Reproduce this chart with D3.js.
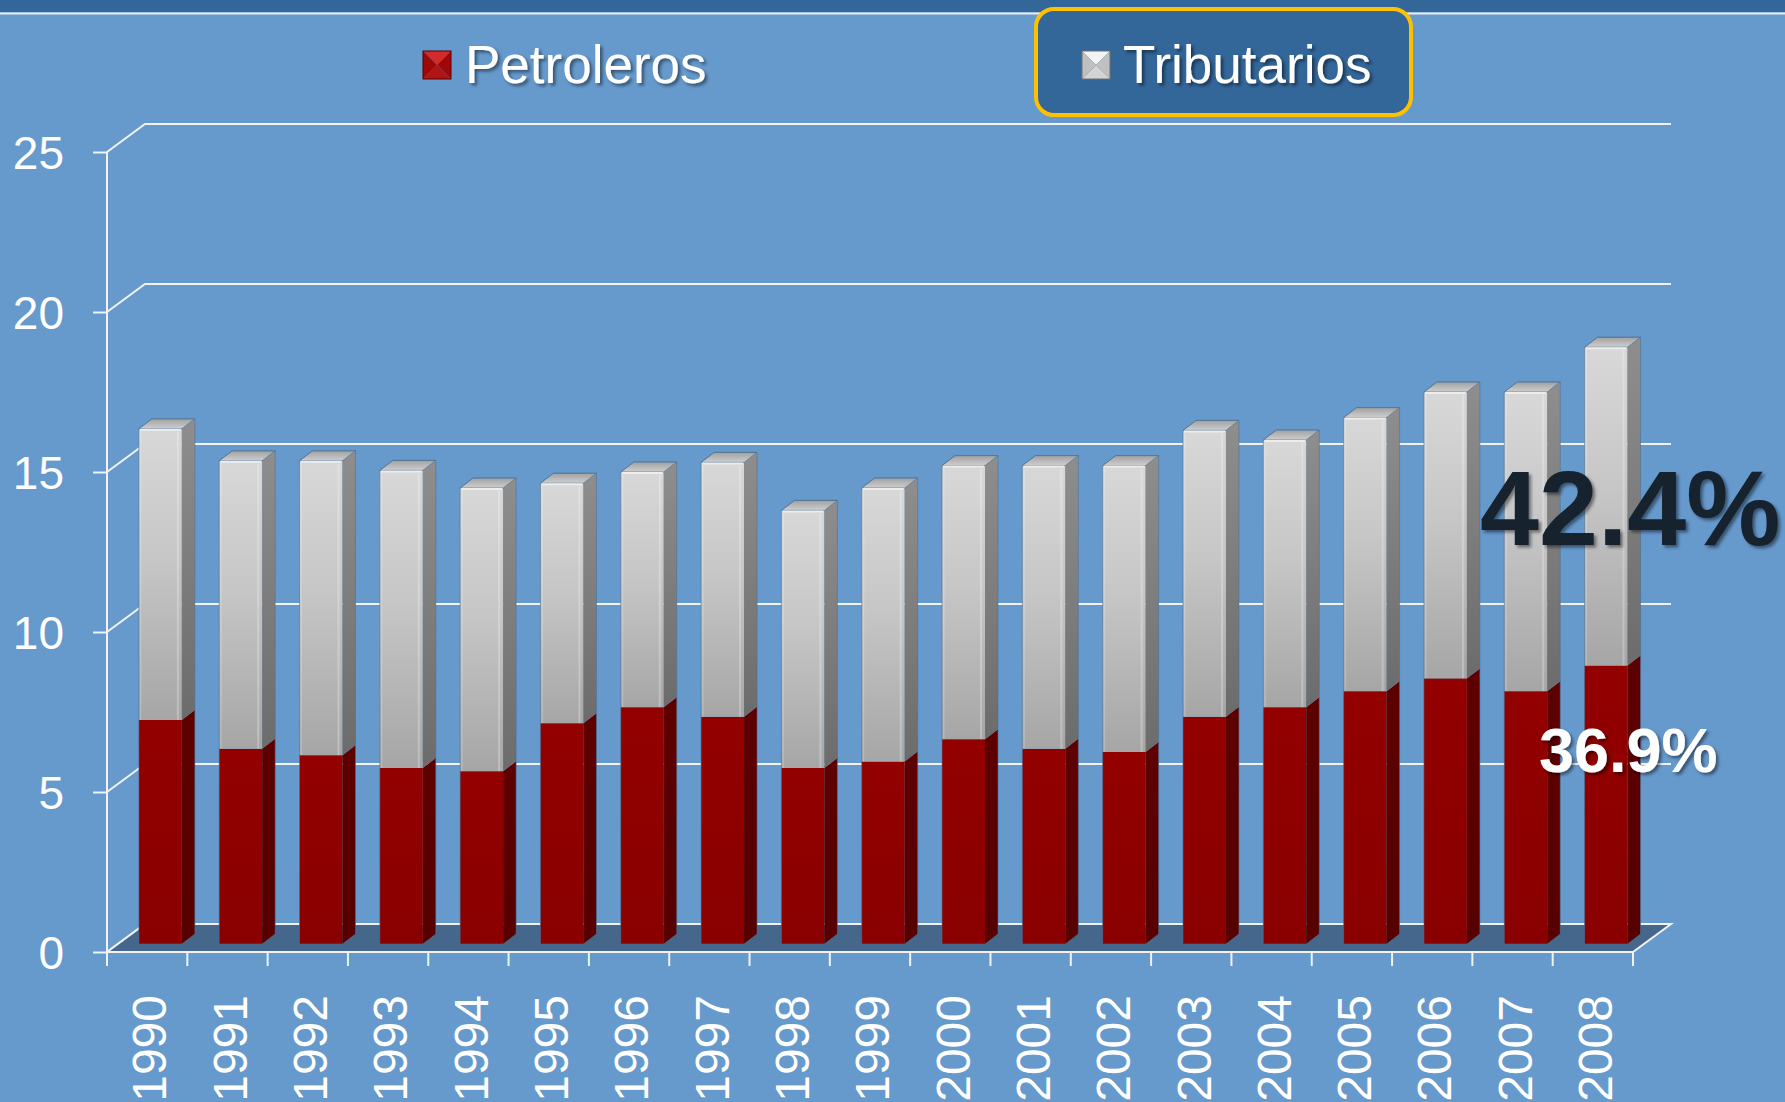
<!DOCTYPE html>
<html>
<head>
<meta charset="utf-8">
<script src="https://cdn.jsdelivr.net/npm/d3@7"></script>
<style>
  html, body { margin: 0; padding: 0; background: #6699CC; overflow: hidden; }
  svg { display: block; }
</style>
</head>
<body>
<svg id="chart" width="1785" height="1102"></svg>
<script>
// ---- DATA ----
const years = ["1990","1991","1992","1993","1994","1995","1996","1997","1998","1999",
               "2000","2001","2002","2003","2004","2005","2006","2007","2008"];
const petroleros  = [7.0, 6.1, 5.9, 5.5, 5.4, 6.9, 7.4, 7.1, 5.5, 5.7, 6.4, 6.1, 6.0, 7.1, 7.4, 7.9, 8.3, 7.9, 8.7];
const tributarios = [9.1, 9.0, 9.2, 9.3, 8.85, 7.5, 7.35, 7.95, 8.05, 8.55, 8.55, 8.85, 8.95, 8.95, 8.35, 8.55, 8.95, 9.35, 9.95];
const yTicks = [0, 5, 10, 15, 20, 25];
const seriesNames = ["Petroleros", "Tributarios"];
const annotBig = "42.4%";
const annotSmall = "36.9%";

// ---- LAYOUT ----
const W = 1785, H = 1102;
const svg = d3.select("#chart");
const x = d3.scaleBand().domain(years).range([107, 1633]).paddingInner(0).paddingOuter(0);
const y = d3.scaleLinear().domain([0, 25]).range([952, 152]);
const DX = 38, DY = -28;          // wall depth
const BX = 13, BY = -10;          // bar depth
const SX = 11, SY = -8;           // bar front face shift into depth
const bw = x.bandwidth();
const barW = bw * 0.535;
const barOff = bw * 0.26 + SX;

const defs = svg.append("defs");
function vgrad(id, stops) {
  const g = defs.append("linearGradient").attr("id", id)
    .attr("x1", 0).attr("y1", 0).attr("x2", 0).attr("y2", 1);
  stops.forEach(s => g.append("stop").attr("offset", s[0]).attr("stop-color", s[1]));
}
vgrad("greyFront", [[0, "#D8D8D8"], [0.45, "#C6C6C6"], [1, "#A6A6A6"]]);
vgrad("greySide", [[0, "#8E8E8E"], [1, "#6C6C6C"]]);
vgrad("greyTop", [[0, "#A0A0A0"], [1, "#CFCFCF"]]);
vgrad("redFront", [[0, "#930000"], [1, "#8A0000"]]);
vgrad("redSide", [[0, "#5E0000"], [1, "#560000"]]);

const sh = defs.append("filter").attr("id", "shadow").attr("x", "-10%").attr("y", "-20%").attr("width", "130%").attr("height", "150%");
sh.append("feDropShadow").attr("dx", 2.5).attr("dy", 2.5).attr("stdDeviation", 1.5)
  .attr("flood-color", "#000").attr("flood-opacity", 0.45);

// background
svg.append("rect").attr("width", W).attr("height", H).attr("fill", "#6699CC");
svg.append("rect").attr("width", W).attr("height", 12).attr("fill", "#336699");
svg.append("line").attr("x1", 0).attr("x2", W).attr("y1", 13.5).attr("y2", 13.5)
  .attr("stroke", "#E8EEF5").attr("stroke-width", 2);

// ---- back wall gridlines ----
const grid = svg.append("g");
const x0 = x.range()[0], x1 = x.range()[1];
yTicks.forEach(t => {
  const yy = y(t);
  grid.append("path")
    .attr("d", `M${x0},${yy} L${x0 + DX},${yy + DY} L${x1 + DX},${yy + DY}`)
    .attr("fill", "none").attr("stroke", "#F2F2F2").attr("stroke-width", 2);
});

// floor
svg.append("path")
  .attr("d", `M${x0},${y(0)} L${x1},${y(0)} L${x1 + DX},${y(0) + DY} L${x0 + DX},${y(0) + DY} Z`)
  .attr("fill", "#46678C");
svg.append("path")
  .attr("d", `M${x0 + DX},${y(0) + DY} L${x1 + DX},${y(0) + DY} L${x1},${y(0)}`)
  .attr("fill", "none").attr("stroke", "#F2F2F2").attr("stroke-width", 2);
svg.append("line").attr("x1", x0).attr("y1", y(0)).attr("x2", x0 + DX).attr("y2", y(0) + DY)
  .attr("stroke", "#F2F2F2").attr("stroke-width", 2);

// ---- axes ----
const yAxis = svg.append("g").attr("transform", `translate(${x0},0)`)
  .call(d3.axisLeft(y).tickValues(yTicks).tickSize(14).tickPadding(30));
yAxis.select(".domain").attr("stroke", "#F2F2F2").attr("stroke-width", 2).attr("d", `M0,${y(0)}V${y(25)}`);
yAxis.selectAll(".tick line").attr("stroke", "#F2F2F2").attr("stroke-width", 2);
yAxis.selectAll(".tick text").attr("fill", "#FFFFFF")
  .style("font-family", "'Liberation Sans', Arial, sans-serif").style("font-size", "46px")
  .attr("x", -43).attr("dy", "0.36em");

const xAxis = svg.append("g").attr("transform", `translate(0,${y(0)})`);
xAxis.append("line").attr("x1", x0).attr("x2", x1).attr("y1", 0).attr("y2", 0)
  .attr("stroke", "#F2F2F2").attr("stroke-width", 2);
const boundaries = years.map(d => x(d)).concat([x1]);
xAxis.selectAll("line.tk").data(boundaries).enter().append("line").attr("class", "tk")
  .attr("x1", d => d).attr("x2", d => d).attr("y1", 0).attr("y2", 14)
  .attr("stroke", "#F2F2F2").attr("stroke-width", 2);
xAxis.selectAll("text").data(years).enter().append("text")
  .attr("transform", d => `translate(${x(d) + bw / 2 + 2},${43}) rotate(-90)`)
  .attr("text-anchor", "end").attr("dy", "0.36em")
  .attr("fill", "#FFFFFF")
  .style("font-family", "'Liberation Sans', Arial, sans-serif").style("font-size", "48px")
  .text(d => d);

// ---- bars ----
const rows = years.map((yr, i) => ({ year: yr, Petroleros: petroleros[i], Tributarios: tributarios[i] }));
const stack = d3.stack().keys(seriesNames)(rows);
const bars = svg.append("g");
const fills = {
  Petroleros: { front: "url(#redFront)", side: "url(#redSide)", top: "#7A0000" },
  Tributarios: { front: "url(#greyFront)", side: "url(#greySide)", top: "url(#greyTop)" }
};
rows.forEach((r, i) => {
  const g = bars.append("g");
  const fx = x(r.year) + barOff;
  stack.forEach((s, si) => {
    const seg = s[i];
    const yT = y(seg[1]) + SY, yB = y(seg[0]) + SY;
    const f = fills[s.key];
    g.append("rect").attr("x", fx).attr("y", yT).attr("width", barW).attr("height", yB - yT)
      .attr("fill", f.front);
    g.append("path")
      .attr("d", `M${fx + barW},${yT} L${fx + barW + BX},${yT + BY} L${fx + barW + BX},${yB + BY} L${fx + barW},${yB} Z`)
      .attr("fill", f.side);
    if (s.key === "Tributarios") {
      g.append("rect").attr("x", fx + barW - 5).attr("y", yT + 3).attr("width", 2).attr("height", yB - yT - 3)
        .attr("fill", "#FFFFFF").attr("opacity", 0.25);
      g.append("rect").attr("x", fx + 1).attr("y", yT + 3).attr("width", 1.5).attr("height", yB - yT - 3)
        .attr("fill", "#FFFFFF").attr("opacity", 0.2);
    }
    if (si === stack.length - 1) {
      g.append("path")
        .attr("d", `M${fx},${yT} L${fx + BX},${yT + BY} L${fx + barW + BX},${yT + BY} L${fx + barW},${yT} Z`)
        .attr("fill", f.top).attr("stroke", "#5A7A9C").attr("stroke-width", 0.8).attr("stroke-linejoin", "round");
      g.append("line").attr("x1", fx + 1).attr("x2", fx + barW - 1).attr("y1", yT + 1).attr("y2", yT + 1)
        .attr("stroke", "#EDEDED").attr("stroke-width", 2);
    }
  });
  const yTop = y(stack[stack.length - 1][i][1]) + SY, yBot = y(0) + SY;
  g.append("path")
    .attr("d", `M${fx},${yBot} L${fx},${yTop} L${fx + BX},${yTop + BY} L${fx + barW + BX},${yTop + BY} L${fx + barW + BX},${yBot + BY} L${fx + barW},${yBot} Z`)
    .attr("fill", "none").attr("stroke", "#4E6F93").attr("stroke-width", 0.8).attr("opacity", 0.7);
});

// ---- annotations ----
svg.append("text").attr("x", 1480).attr("y", 545)
  .attr("fill", "#15212F").attr("filter", "url(#shadow)")
  .style("font-family", "'Liberation Sans', Arial, sans-serif").style("font-weight", "bold").style("font-size", "106px")
  .text(annotBig);
svg.append("text").attr("x", 1539).attr("y", 772)
  .attr("fill", "#FFFFFF").attr("filter", "url(#shadow)")
  .style("font-family", "'Liberation Sans', Arial, sans-serif").style("font-weight", "bold").style("font-size", "63px")
  .text(annotSmall);

// ---- legend ----
const leg = svg.append("g");
leg.append("rect").attr("x", 1036).attr("y", 9).attr("width", 375).attr("height", 106)
  .attr("rx", 18).attr("ry", 18).attr("fill", "#336699").attr("stroke", "#FFC000").attr("stroke-width", 4);

function marker(gx, gy, s, cols) {
  const m = leg.append("g").attr("transform", `translate(${gx},${gy})`);
  const c = s / 2;
  m.append("path").attr("d", `M0,0 L${s},0 L${c},${c} Z`).attr("fill", cols[0]);
  m.append("path").attr("d", `M${s},0 L${s},${s} L${c},${c} Z`).attr("fill", cols[1]);
  m.append("path").attr("d", `M0,${s} L${s},${s} L${c},${c} Z`).attr("fill", cols[2]);
  m.append("path").attr("d", `M0,0 L0,${s} L${c},${c} Z`).attr("fill", cols[1]);
  m.append("rect").attr("width", s).attr("height", s).attr("fill", "none").attr("stroke", cols[3]).attr("stroke-width", 1);
}
marker(423, 51, 28, ["#D42A2A", "#A00808", "#B01414", "#5A0000"]);
marker(1082, 51, 28, ["#F4F4F4", "#C0C0C0", "#D4D4D4", "#707070"]);

const legText = [
  { name: seriesNames[0], x: 465 },
  { name: seriesNames[1], x: 1123 }
];
leg.selectAll("text.lg").data(legText).enter().append("text").attr("class", "lg")
  .attr("x", d => d.x).attr("y", 83)
  .attr("fill", "#FFFFFF").attr("filter", "url(#shadow)")
  .style("font-family", "'Liberation Sans', Arial, sans-serif").style("font-size", "53px")
  .text(d => d.name);
</script>
</body>
</html>
